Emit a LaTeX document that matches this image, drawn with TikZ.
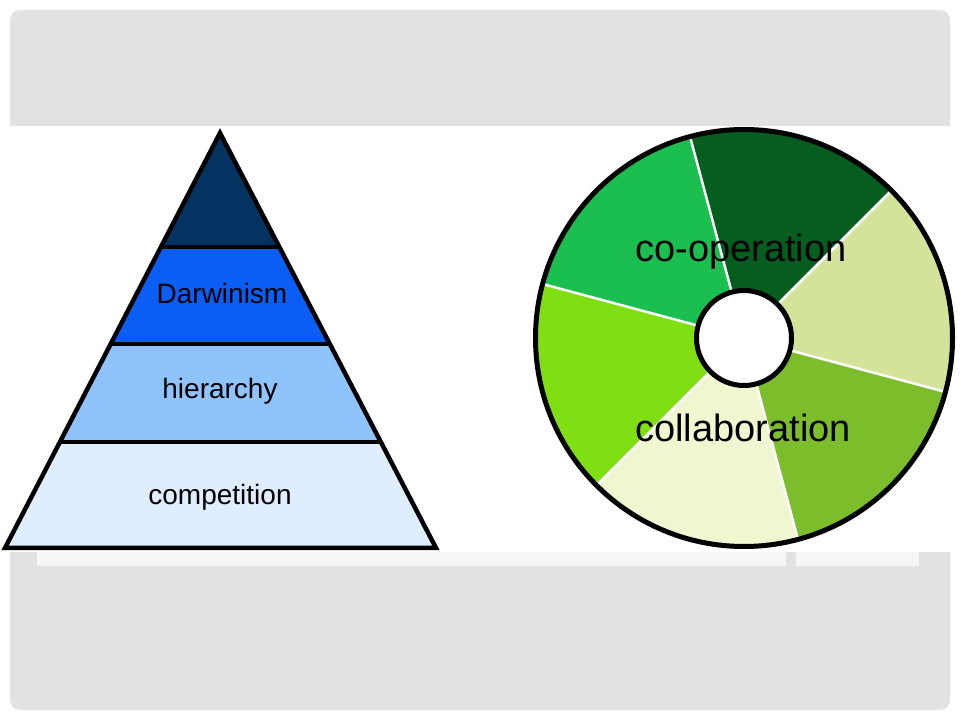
\documentclass[tikz,border=0pt]{standalone}
\usepackage{fontspec}
\setmainfont{Liberation Sans}
\usetikzlibrary{positioning}

\definecolor{panelgray}{RGB}{226,226,226}
\definecolor{stripgray}{RGB}{246,246,246}
\definecolor{navytop}{RGB}{4,51,97}
\definecolor{darwinblue}{RGB}{10,94,244}
\definecolor{hierblue}{RGB}{143,195,251}
\definecolor{compblue}{RGB}{222,238,255}
\definecolor{pinedark}{RGB}{5,94,31}
\definecolor{olivelight}{RGB}{211,227,153}
\definecolor{leafmid}{RGB}{123,189,43}
\definecolor{palelime}{RGB}{239,247,208}
\definecolor{limebright}{RGB}{127,223,18}
\definecolor{grassgreen}{RGB}{27,191,79}

\begin{document}
\begin{tikzpicture}
[
	x=1pt, y=1pt,
	tier/.style = {font=\fontsize{28}{32}\selectfont, anchor=base, inner sep=0pt},
	ring/.style = {font=\fontsize{38}{44}\selectfont, anchor=base, inner sep=0pt},
	edge/.style = {line width=4.5pt},
	divider/.style = {white, line width=2.5pt}
]

\useasboundingbox (0,0) rectangle (960,720);
\fill[white] (0,0) rectangle (960,720);
\fill[panelgray, rounded corners=10pt] (10,10) rectangle (950,710);
\fill[white] (0,168) rectangle (960,594);
\fill[stripgray] (37,154) rectangle (786,168);
\fill[stripgray] (796,154) rectangle (919,168);

% pyramid
\coordinate (apex) at (220,587);
\coordinate (baseL) at (5,172);
\coordinate (baseR) at (436,172);
\begin{scope}
\clip (apex) -- (baseL) -- (baseR) -- cycle;
\fill[navytop] (0,473) rectangle (440,600);
\fill[darwinblue] (0,376) rectangle (440,473);
\fill[hierblue] (0,278) rectangle (440,376);
\fill[compblue] (0,160) rectangle (440,278);
\foreach \y in {473,376,278}
	\draw[edge] (0,\y) -- (440,\y);
\end{scope}
\draw[edge] (apex) -- (baseL) -- (baseR) -- cycle;

\node[tier] (darwinism) at (222,416) {Darwinism};
\node[tier] (hierarchy) at (220,321) {hierarchy};
\node[tier] (competition) at (220,215) {competition};

% disk
\coordinate (hub) at (744,382);
\foreach \a/\c in {45/pinedark, -15/olivelight, -75/leafmid, -135/palelime, 165/limebright, 105/grassgreen}
	\fill[\c] (hub) -- ++(\a:208.5) arc[start angle=\a, end angle=\a+60, radius=208.5] -- cycle;
\foreach \a in {45,105,165,225,285,345}
	\draw[divider] (hub) -- ++(\a:207);
\draw[edge, line width=5pt] (hub) circle[radius=208.5];
\node[circle, draw, fill=white, line width=5pt, inner sep=0pt, minimum size=95pt] (hole) at (hub) {};

\node[ring] (coop) at (741,458) {co-operation};
\node[ring] (collab) at (743,278) {collaboration};

\end{tikzpicture}
\end{document}
